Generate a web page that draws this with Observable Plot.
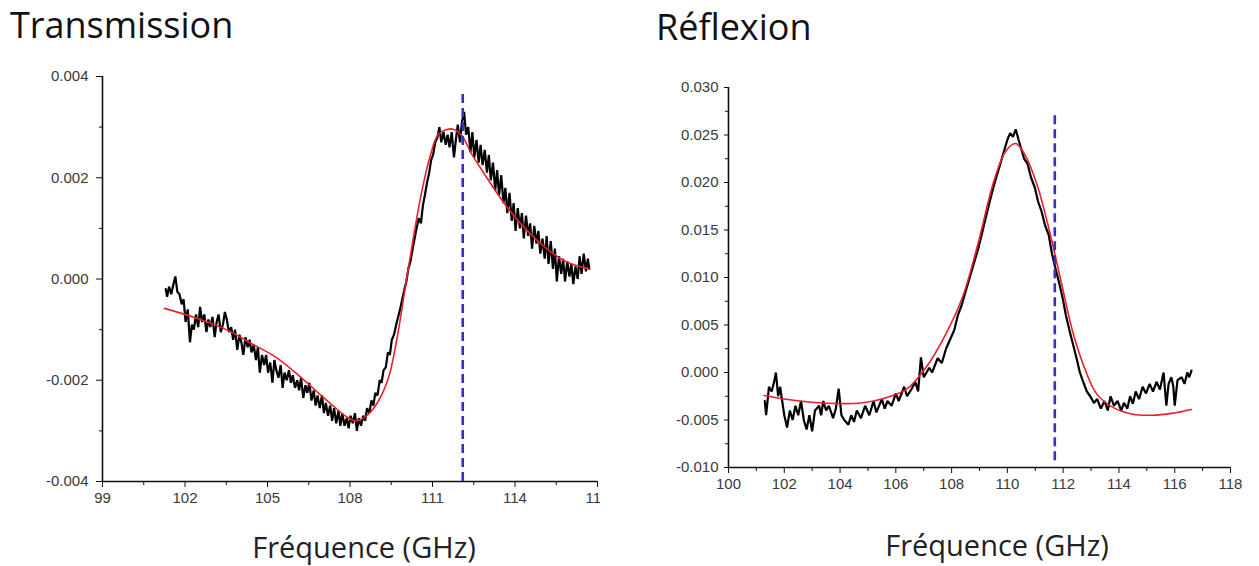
<!DOCTYPE html>
<html><head><meta charset="utf-8">
<script src="https://cdn.jsdelivr.net/npm/d3@7"></script>
<script src="https://cdn.jsdelivr.net/npm/@observablehq/plot@0.6"></script>
<style>
body{margin:0;background:#fff;}
#root{position:relative;width:1259px;height:566px;overflow:hidden;background:#fff;font-family:"Open Sans",sans-serif;}
.title{position:absolute;font-size:36px;line-height:normal;color:#111;white-space:nowrap;}
.xlabel{position:absolute;font-size:29px;line-height:normal;color:#222;white-space:nowrap;transform:translateX(-50%);}
#left{position:absolute;left:0;top:60px;width:600px;height:470px;overflow:hidden;}
#right{position:absolute;left:640px;top:70px;width:619px;height:450px;overflow:hidden;}
#left svg,#right svg{max-width:none;}
</style></head>
<body><div id="root">
<div class="title" style="left:10px;top:0px">Transmission</div>
<div class="title" style="left:656px;top:2px">Réflexion</div>
<div class="xlabel" style="left:364px;top:527px">Fréquence (GHz)</div>
<div class="xlabel" style="left:997px;top:525px">Fréquence (GHz)</div>
<div id="left"></div>
<div id="right"></div>
</div>
<script>
// ---------- Transmission ----------
const transMeasured = [
[101.30,-0.00020],[101.35,-0.00035],[101.42,-0.00015],[101.50,-0.00030],[101.58,-0.00010],[101.65,0.00005],
[101.72,-0.00025],[101.80,-0.00030],[101.88,-0.00050],[101.95,-0.00040],[102.02,-0.00085],[102.10,-0.00060],
[102.18,-0.00125],[102.25,-0.00090],[102.32,-0.00100],[102.40,-0.00070],[102.48,-0.00095],[102.55,-0.00055],
[102.62,-0.00085],[102.70,-0.00070],[102.78,-0.00105],[102.85,-0.00080],[102.92,-0.00095],[103.00,-0.00075],
[103.08,-0.00115],[103.15,-0.00085],[103.22,-0.00070],[103.30,-0.00105],[103.38,-0.00090],[103.45,-0.00065],
[103.52,-0.00080],[103.60,-0.00105],[103.68,-0.00095],[103.75,-0.00120],[103.82,-0.00100],[103.90,-0.00140],
[103.98,-0.00110],[104.05,-0.00125],[104.12,-0.00150],[104.20,-0.00115],[104.28,-0.00135],[104.35,-0.00120],
[104.42,-0.00145],[104.50,-0.00130],[104.58,-0.00160],[104.65,-0.00135],[104.72,-0.00185],[104.80,-0.00150],
[104.88,-0.00170],[104.95,-0.00150],[105.02,-0.00185],[105.10,-0.00165],[105.18,-0.00205],[105.25,-0.00160],
[105.32,-0.00180],[105.40,-0.00195],[105.48,-0.00170],[105.55,-0.00215],[105.62,-0.00185],[105.70,-0.00200],
[105.78,-0.00180],[105.85,-0.00205],[105.92,-0.00190],[106.00,-0.00215],[106.08,-0.00200],[106.15,-0.00220],
[106.22,-0.00195],[106.30,-0.00235],[106.38,-0.00210],[106.45,-0.00225],[106.52,-0.00205],[106.60,-0.00240],
[106.68,-0.00220],[106.75,-0.00250],[106.82,-0.00230],[106.90,-0.00255],[106.98,-0.00230],[107.05,-0.00265],
[107.12,-0.00245],[107.20,-0.00270],[107.28,-0.00250],[107.35,-0.00280],[107.42,-0.00255],[107.50,-0.00285],
[107.58,-0.00260],[107.65,-0.00290],[107.72,-0.00265],[107.80,-0.00290],[107.88,-0.00275],[107.95,-0.00295],
[108.02,-0.00270],[108.10,-0.00285],[108.18,-0.00265],[108.25,-0.00300],[108.32,-0.00275],[108.40,-0.00290],
[108.48,-0.00270],[108.55,-0.00280],[108.62,-0.00255],[108.70,-0.00265],[108.78,-0.00240],[108.85,-0.00250],
[108.92,-0.00225],[109.00,-0.00230],[109.08,-0.00200],[109.15,-0.00205],[109.22,-0.00180],[109.30,-0.00175],
[109.38,-0.00145],[109.45,-0.00150],[109.52,-0.00120],[109.60,-0.00110],[109.68,-0.00090],[109.75,-0.00075],
[109.82,-0.00060],[109.90,-0.00040],[109.98,-0.00020],[110.05,-0.00005],[110.12,0.00020],[110.20,0.00035],
[110.28,0.00060],[110.35,0.00080],[110.42,0.00100],[110.50,0.00120],[110.58,0.00110],[110.65,0.00145],
[110.72,0.00165],[110.80,0.00190],[110.88,0.00210],[110.95,0.00235],[111.02,0.00245],[111.10,0.00270],
[111.18,0.00280],[111.25,0.00300],[111.32,0.00270],[111.40,0.00290],[111.48,0.00265],[111.55,0.00285],
[111.62,0.00260],[111.70,0.00290],[111.78,0.00240],[111.85,0.00275],[111.92,0.00305],[112.00,0.00270],
[112.07,0.00310],[112.15,0.00330],[112.22,0.00285],[112.30,0.00300],[112.38,0.00250],[112.45,0.00290],
[112.52,0.00240],[112.60,0.00275],[112.68,0.00230],[112.75,0.00265],[112.82,0.00225],[112.90,0.00255],
[112.98,0.00210],[113.05,0.00245],[113.12,0.00195],[113.20,0.00230],[113.28,0.00175],[113.35,0.00215],
[113.42,0.00165],[113.50,0.00205],[113.58,0.00150],[113.65,0.00180],[113.72,0.00130],[113.80,0.00170],
[113.88,0.00115],[113.95,0.00150],[114.02,0.00095],[114.10,0.00140],[114.18,0.00100],[114.25,0.00130],
[114.32,0.00080],[114.40,0.00125],[114.48,0.00085],[114.55,0.00110],[114.62,0.00060],[114.70,0.00105],
[114.78,0.00070],[114.85,0.00095],[114.92,0.00050],[115.00,0.00080],[115.08,0.00040],[115.15,0.00085],
[115.22,0.00030],[115.30,0.00075],[115.38,0.00020],[115.45,0.00060],[115.52,-0.00005],[115.60,0.00045],
[115.68,0.00010],[115.75,0.00040],[115.82,-0.00005],[115.90,0.00035],[115.98,0.00005],[116.05,0.00030],
[116.12,-0.00010],[116.20,0.00025],[116.28,0.00000],[116.35,0.00045],[116.42,0.00010],[116.50,0.00050],
[116.58,0.00015],[116.65,0.00040],[116.70,0.00020]
];
const transFit = [
[101.25,-0.00058],[102.4,-0.00077],[103.5,-0.00100],[104.5,-0.00130],[105.26,-0.00153],[106.1,-0.00189],
[106.7,-0.00218],[107.27,-0.00245],[107.84,-0.00271],[108.2,-0.00280],[108.56,-0.00272],[108.99,-0.00245],
[109.4,-0.00195],[109.7,-0.00120],[110.0,-0.00020],[110.3,0.00080],[110.6,0.00170],[110.9,0.00240],
[111.2,0.00285],[111.5,0.00295],[111.75,0.00296],[112.07,0.00283],[112.42,0.00247],[113.0,0.00198],
[113.71,0.00142],[114.43,0.00096],[115.15,0.00060],[115.86,0.00034],[116.7,0.00020]
];
const transMarker = {x: 112.1, y1: -0.004, y2: 0.00369};
const transXTicks = [99,102,105,108,111,114,117];
const transXMinor = [100.5,103.5,106.5,109.5,112.5,115.5];
const transYTicks = [-0.004,-0.002,0,0.002,0.004];
const transYMinor = [-0.003,-0.001,0.001,0.003];

// ---------- Réflexion ----------
const reflMeasured = [
[101.30,-0.0030],[101.35,-0.0045],[101.45,-0.0015],[101.55,-0.0020],[101.65,-0.0008],[101.70,0.0000],
[101.78,-0.0025],[101.85,-0.0015],[101.95,-0.0035],[102.00,-0.0045],[102.10,-0.0058],[102.20,-0.0040],
[102.30,-0.0050],[102.40,-0.0035],[102.50,-0.0045],[102.60,-0.0030],[102.70,-0.0050],[102.80,-0.0060],
[102.90,-0.0045],[103.00,-0.0062],[103.10,-0.0040],[103.25,-0.0035],[103.32,-0.0045],[103.40,-0.0030],
[103.50,-0.0040],[103.60,-0.0035],[103.75,-0.0048],[103.85,-0.0038],[103.95,-0.0017],[104.05,-0.0045],
[104.15,-0.0050],[104.30,-0.0055],[104.40,-0.0045],[104.50,-0.0052],[104.60,-0.0040],[104.75,-0.0048],
[104.90,-0.0035],[105.05,-0.0045],[105.20,-0.0030],[105.30,-0.0042],[105.40,-0.0035],[105.50,-0.0028],
[105.60,-0.0038],[105.70,-0.0030],[105.85,-0.0035],[106.00,-0.0022],[106.10,-0.0030],[106.30,-0.0015],
[106.40,-0.0025],[106.55,-0.0018],[106.70,-0.0010],[106.80,-0.0020],[106.90,0.0016],[107.00,-0.0005],
[107.20,0.0005],[107.30,0.0000],[107.50,0.0015],[107.65,0.0010],[107.80,0.0025],[107.95,0.0035],
[108.10,0.0045],[108.22,0.0060],[108.35,0.0070],[108.50,0.0085],[108.65,0.0100],[108.80,0.0115],
[108.95,0.0130],[109.08,0.0145],[109.20,0.0160],[109.35,0.0178],[109.50,0.0195],[109.65,0.0210],
[109.80,0.0225],[109.90,0.0235],[110.00,0.0245],[110.10,0.0252],[110.20,0.0248],[110.30,0.0256],
[110.40,0.0245],[110.50,0.0235],[110.60,0.0225],[110.72,0.0220],[110.85,0.0205],[110.98,0.0195],
[111.10,0.0180],[111.22,0.0170],[111.35,0.0155],[111.48,0.0145],[111.60,0.0125],[111.72,0.0110],
[111.85,0.0095],[111.97,0.0080],[112.10,0.0060],[112.22,0.0045],[112.35,0.0030],[112.48,0.0015],
[112.60,0.0000],[112.72,-0.0010],[112.85,-0.0020],[112.97,-0.0025],[113.10,-0.0032],[113.22,-0.0028],
[113.35,-0.0038],[113.48,-0.0030],[113.60,-0.0040],[113.70,-0.0025],[113.82,-0.0035],[113.95,-0.0030],
[114.08,-0.0040],[114.18,-0.0032],[114.30,-0.0038],[114.40,-0.0025],[114.50,-0.0033],[114.60,-0.0020],
[114.72,-0.0028],[114.85,-0.0015],[114.97,-0.0022],[115.10,-0.0012],[115.22,-0.0020],[115.35,-0.0010],
[115.47,-0.0018],[115.60,0.0000],[115.70,-0.0035],[115.78,-0.0012],[115.88,-0.0005],[115.95,-0.0015],
[116.00,-0.0035],[116.10,-0.0008],[116.25,-0.0005],[116.35,-0.0012],[116.45,0.0000],[116.52,-0.0005],
[116.60,0.0002]
];
const reflFit = [
[101.28,-0.00242],[102.4,-0.00295],[103.53,-0.00323],[104.67,-0.00323],[105.5,-0.00278],[106.4,-0.00172],
[107.1,0.0006],[107.8,0.0041],[108.4,0.0080],[108.95,0.0136],[109.5,0.0200],[109.94,0.0233],
[110.3,0.0241],[110.65,0.0228],[111.08,0.0196],[111.5,0.0150],[111.94,0.0094],[112.36,0.0041],
[112.8,0.00022],[113.2,-0.00225],[113.8,-0.0037],[114.5,-0.0044],[115.2,-0.0045],[115.9,-0.0043],[116.6,-0.0039]
];
const reflMarker = {x: 111.7, y1: -0.0093, y2: 0.0275};
const reflXTicks = [100,102,104,106,108,110,112,114,116,118];
const reflXMinor = [101,103,105,107,109,111,113,115,117];
const reflYTicks = [-0.010,-0.005,0,0.005,0.010,0.015,0.020,0.025,0.030];
const reflYMinor = [-0.0075,-0.0025,0.0025,0.0075,0.0125,0.0175,0.0225,0.0275];

const BLACK = "#000", RED = "#e8202e", BLUE = "#3131c4", TXT = "#3a3a3a";
const fmt = d => d.toFixed(3);

function panel(o) {
  return Plot.plot({
    width: o.width, height: o.height,
    marginLeft: o.ml, marginRight: o.mr, marginTop: o.mt, marginBottom: o.mb,
    x: {domain: o.xDomain}, y: {domain: o.yDomain},
    style: {fontFamily: "'Liberation Sans', Arial, sans-serif", fontSize: "15px", background: "transparent", color: TXT, maxWidth: "none"},
    marks: [
      Plot.axisY(o.yTicks, {tickFormat: fmt, tickSize: o.yTickSize, tickPadding: o.yPad, label: null, stroke: "#111", fill: TXT, fontSize: 15}),
      Plot.axisY(o.yMinor, {tickFormat: () => "", tickSize: 3, label: null, stroke: "#111"}),
      Plot.axisX(o.xTicks, {tickSize: 6, tickPadding: 5, label: null, stroke: "#111", fill: TXT, fontSize: 15}),
      Plot.axisX(o.xMinor, {tickFormat: () => "", tickSize: 4, label: null, stroke: "#111"}),
      Plot.ruleX([o.xDomain[0]], {stroke: "#111", strokeWidth: 1.6}),
      Plot.ruleY([o.yDomain[0]], {stroke: "#111", strokeWidth: 1.6}),
      Plot.line(o.measured, {x: d => d[0], y: d => d[1], stroke: BLACK, strokeWidth: 2.2, strokeLinejoin: "miter"}),
      Plot.line(o.fit, {x: d => d[0], y: d => d[1], stroke: RED, strokeWidth: 1.6, curve: "catmull-rom"}),
      Plot.ruleX([o.marker], {x: "x", y1: "y1", y2: "y2", stroke: BLUE, strokeWidth: 2.6, strokeDasharray: "9,5"})
    ]
  });
}

document.getElementById("left").append(panel({
  width: 620, height: 470, ml: 102, mr: 23, mt: 16, mb: 49,
  xDomain: [99, 117], yDomain: [-0.004, 0.004],
  xTicks: transXTicks, xMinor: transXMinor, yTicks: transYTicks, yMinor: transYMinor,
  yTickSize: 6, yPad: 8,
  measured: transMeasured, fit: transFit, marker: transMarker
}));
document.getElementById("right").append(panel({
  width: 619, height: 450, ml: 88, mr: 29, mt: 17, mb: 53,
  xDomain: [100, 118], yDomain: [-0.010, 0.030],
  xTicks: reflXTicks, xMinor: reflXMinor, yTicks: reflYTicks, yMinor: reflYMinor,
  yTickSize: 4, yPad: 6,
  measured: reflMeasured, fit: reflFit, marker: reflMarker
}));
</script>
</body></html>
